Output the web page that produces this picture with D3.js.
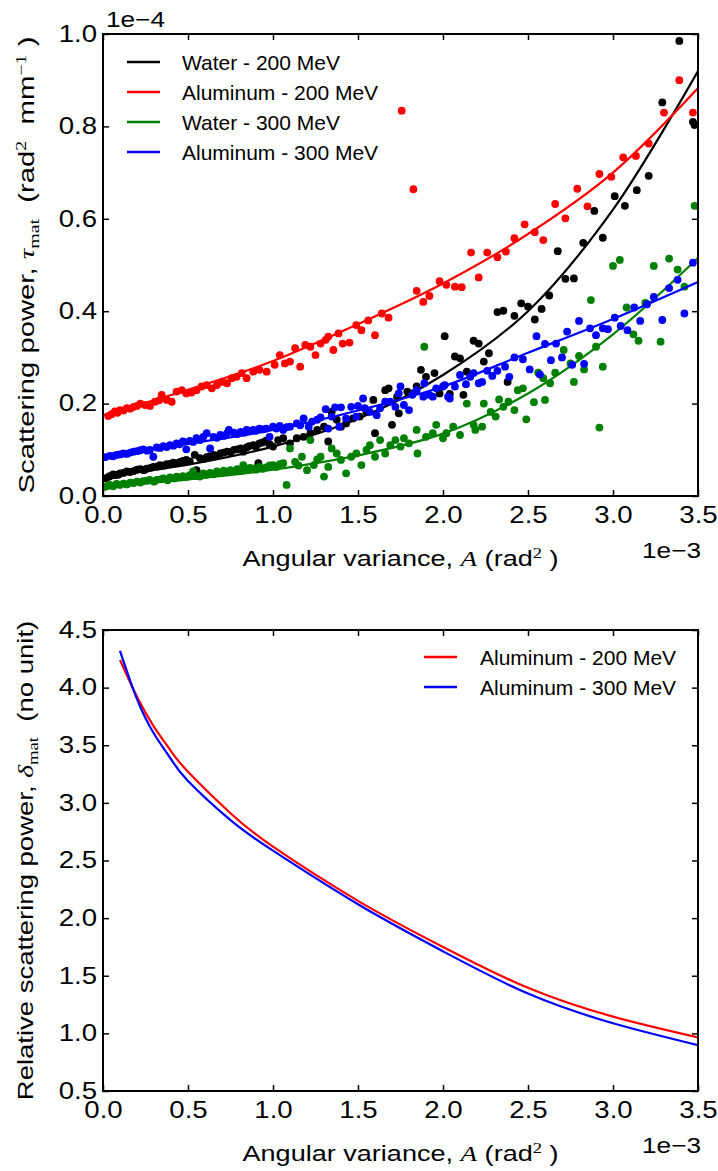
<!DOCTYPE html>
<html><head><meta charset="utf-8">
<script src="https://cdn.jsdelivr.net/npm/d3@7/dist/d3.min.js"></script>
<style>
body{margin:0;background:#fff;}
svg text{font-family:"Liberation Sans",Arial,Helvetica,sans-serif;fill:#000;}
</style></head><body>
<svg id="chart" width="718" height="1171"></svg>
<script>
// ---------- data ----------
const xTicks = [0, 0.5, 1.0, 1.5, 2.0, 2.5, 3.0, 3.5];
const xTickLabels = ["0.0", "0.5", "1.0", "1.5", "2.0", "2.5", "3.0", "3.5"];
const topYTicks = [0, 0.2, 0.4, 0.6, 0.8, 1.0];
const topYTickLabels = ["0.0", "0.2", "0.4", "0.6", "0.8", "1.0"];
const botYTicks = [0.5, 1.0, 1.5, 2.0, 2.5, 3.0, 3.5, 4.0, 4.5];
const botYTickLabels = ["0.5", "1.0", "1.5", "2.0", "2.5", "3.0", "3.5", "4.0", "4.5"];
const topSeriesNames = ["Water - 200 MeV", "Aluminum - 200 MeV", "Water - 300 MeV", "Aluminum - 300 MeV"];
const botSeriesNames = ["Aluminum - 200 MeV", "Aluminum - 300 MeV"];

// scatter points [A (1e-3 rad^2), tau (1e-4 rad^2/mm)]
const water200Points = [[0.012,0.038],[0.03,0.041],[0.04,0.043],[0.06,0.047],[0.07,0.045],[0.09,0.046],[0.10,0.049],[0.12,0.05],[0.14,0.053],[0.16,0.052],[0.18,0.054],[0.2,0.057],[0.22,0.058],[0.24,0.056],[0.257,0.059],[0.28,0.061],[0.296,0.063],[0.32,0.064],[0.335,0.067],[0.36,0.066],[0.375,0.069],[0.4,0.07],[0.414,0.072],[0.44,0.071],[0.453,0.074],[0.47,0.076],[0.49,0.078],[0.51,0.075],[0.54,0.089],[0.55,0.056],[0.57,0.082],[0.59,0.08],[0.61,0.084],[0.63,0.086],[0.65,0.089],[0.67,0.087],[0.69,0.092],[0.71,0.094],[0.73,0.096],[0.75,0.095],[0.77,0.10],[0.79,0.101],[0.81,0.103],[0.825,0.096],[0.845,0.105],[0.86,0.108],[0.884,0.11],[0.9,0.106],[0.914,0.071],[0.92,0.114],[0.94,0.116],[0.96,0.12],[0.98,0.112],[1.0,0.107],[1.03,0.121],[1.06,0.125],[1.10,0.114],[1.14,0.125],[1.18,0.128],[1.22,0.136],[1.26,0.143],[1.30,0.15],[1.325,0.118],[1.345,0.182],[1.375,0.165],[1.40,0.15],[1.43,0.157],[1.47,0.168],[1.51,0.172],[1.55,0.182],[1.59,0.208],[1.60,0.136],[1.66,0.229],[1.68,0.233],[1.70,0.154],[1.73,0.215],[1.74,0.179],[1.79,0.226],[1.82,0.222],[1.845,0.237],[1.87,0.273],[1.90,0.258],[1.95,0.266],[1.98,0.222],[2.01,0.346],[2.04,0.221],[2.07,0.302],[2.10,0.298],[2.12,0.219],[2.14,0.269],[2.18,0.336],[2.21,0.33],[2.24,0.291],[2.27,0.309],[2.32,0.398],[2.355,0.401],[2.38,0.247],[2.42,0.39],[2.46,0.417],[2.50,0.41],[2.54,0.382],[2.58,0.405],[2.625,0.434],[2.675,0.53],[2.72,0.47],[2.77,0.471],[2.825,0.548],[2.89,0.617],[2.94,0.559],[3.01,0.649],[3.07,0.628],[3.14,0.662],[3.21,0.693],[3.29,0.852],[3.39,0.985],[3.47,0.81],[3.48,0.803]];
const alu200Points = [[0.031,0.173],[0.05,0.177],[0.07,0.183],[0.085,0.18],[0.1,0.186],[0.12,0.185],[0.14,0.19],[0.16,0.189],[0.18,0.193],[0.2,0.195],[0.22,0.2],[0.247,0.197],[0.276,0.195],[0.306,0.204],[0.33,0.207],[0.345,0.219],[0.375,0.208],[0.404,0.204],[0.433,0.226],[0.463,0.229],[0.49,0.222],[0.52,0.224],[0.55,0.229],[0.58,0.237],[0.61,0.24],[0.64,0.233],[0.67,0.24],[0.70,0.247],[0.73,0.244],[0.757,0.255],[0.786,0.258],[0.816,0.266],[0.845,0.255],[0.884,0.269],[0.92,0.273],[0.963,0.269],[1.01,0.284],[1.04,0.305],[1.07,0.287],[1.10,0.291],[1.13,0.32],[1.16,0.28],[1.19,0.327],[1.22,0.323],[1.25,0.305],[1.28,0.33],[1.31,0.338],[1.325,0.345],[1.355,0.316],[1.385,0.352],[1.41,0.33],[1.45,0.332],[1.49,0.37],[1.52,0.359],[1.56,0.38],[1.60,0.348],[1.64,0.395],[1.68,0.386],[1.757,0.834],[1.826,0.664],[1.845,0.444],[1.884,0.42],[1.92,0.433],[1.98,0.465],[2.02,0.457],[2.07,0.453],[2.11,0.452],[2.165,0.527],[2.21,0.473],[2.26,0.527],[2.32,0.517],[2.37,0.529],[2.42,0.558],[2.48,0.588],[2.54,0.571],[2.59,0.554],[2.66,0.632],[2.72,0.601],[2.79,0.665],[2.85,0.627],[2.92,0.697],[2.99,0.691],[3.06,0.733],[3.135,0.736],[3.21,0.763],[3.30,0.83],[3.39,0.90],[3.47,0.83]];
const water300Points = [[0.012,0.02],[0.03,0.022],[0.04,0.024],[0.06,0.021],[0.08,0.026],[0.1,0.024],[0.12,0.027],[0.14,0.025],[0.16,0.029],[0.18,0.028],[0.2,0.031],[0.22,0.029],[0.237,0.032],[0.26,0.033],[0.276,0.035],[0.3,0.031],[0.316,0.035],[0.34,0.036],[0.355,0.038],[0.38,0.034],[0.394,0.04],[0.42,0.038],[0.433,0.042],[0.455,0.04],[0.47,0.043],[0.49,0.041],[0.51,0.045],[0.53,0.053],[0.55,0.043],[0.57,0.042],[0.59,0.049],[0.61,0.046],[0.63,0.05],[0.65,0.047],[0.67,0.053],[0.69,0.05],[0.71,0.055],[0.73,0.052],[0.75,0.056],[0.77,0.054],[0.79,0.058],[0.81,0.055],[0.825,0.067],[0.845,0.056],[0.864,0.061],[0.884,0.06],[0.9,0.057],[0.92,0.063],[0.94,0.059],[0.96,0.062],[0.98,0.066],[1.0,0.067],[1.02,0.063],[1.04,0.069],[1.06,0.071],[1.08,0.024],[1.1,0.103],[1.13,0.074],[1.15,0.066],[1.17,0.085],[1.2,0.056],[1.22,0.121],[1.24,0.067],[1.26,0.079],[1.28,0.085],[1.3,0.042],[1.325,0.063],[1.345,0.103],[1.375,0.092],[1.4,0.078],[1.43,0.049],[1.46,0.085],[1.49,0.092],[1.52,0.067],[1.55,0.1],[1.57,0.11],[1.6,0.085],[1.63,0.121],[1.66,0.092],[1.69,0.11],[1.72,0.121],[1.75,0.107],[1.77,0.125],[1.8,0.114],[1.845,0.143],[1.85,0.092],[1.89,0.323],[1.9,0.128],[1.94,0.136],[1.96,0.154],[2.0,0.125],[2.02,0.136],[2.06,0.15],[2.1,0.132],[2.14,0.2],[2.18,0.154],[2.19,0.143],[2.23,0.15],[2.24,0.2],[2.28,0.182],[2.31,0.172],[2.33,0.209],[2.355,0.193],[2.385,0.204],[2.42,0.186],[2.44,0.229],[2.47,0.233],[2.49,0.166],[2.535,0.203],[2.56,0.267],[2.59,0.255],[2.6,0.208],[2.63,0.244],[2.66,0.267],[2.71,0.316],[2.75,0.287],[2.77,0.247],[2.8,0.303],[2.83,0.274],[2.87,0.424],[2.9,0.323],[2.92,0.148],[2.94,0.28],[3.0,0.498],[3.04,0.511],[3.08,0.408],[3.12,0.35],[3.15,0.336],[3.19,0.418],[3.24,0.498],[3.28,0.334],[3.33,0.514],[3.38,0.49],[3.42,0.453],[3.48,0.628]];
const alu300Points = [[0.012,0.084],[0.04,0.087],[0.06,0.086],[0.08,0.089],[0.1,0.09],[0.12,0.092],[0.14,0.091],[0.16,0.094],[0.18,0.096],[0.2,0.097],[0.22,0.099],[0.237,0.101],[0.26,0.098],[0.276,0.1],[0.296,0.085],[0.316,0.105],[0.336,0.104],[0.355,0.108],[0.375,0.106],[0.394,0.11],[0.414,0.109],[0.433,0.114],[0.45,0.112],[0.47,0.118],[0.49,0.101],[0.51,0.119],[0.53,0.117],[0.55,0.125],[0.57,0.121],[0.59,0.128],[0.61,0.136],[0.63,0.103],[0.65,0.128],[0.67,0.126],[0.69,0.132],[0.71,0.13],[0.73,0.136],[0.74,0.143],[0.77,0.137],[0.79,0.134],[0.81,0.139],[0.83,0.137],[0.845,0.143],[0.864,0.14],[0.884,0.143],[0.9,0.141],[0.92,0.146],[0.94,0.144],[0.96,0.146],[0.98,0.128],[1.0,0.15],[1.02,0.146],[1.04,0.152],[1.06,0.143],[1.08,0.149],[1.1,0.15],[1.14,0.157],[1.16,0.153],[1.18,0.168],[1.21,0.15],[1.23,0.161],[1.26,0.165],[1.28,0.17],[1.31,0.188],[1.325,0.146],[1.345,0.172],[1.365,0.192],[1.39,0.15],[1.4,0.192],[1.43,0.168],[1.46,0.193],[1.49,0.172],[1.5,0.195],[1.53,0.211],[1.54,0.19],[1.57,0.182],[1.61,0.175],[1.63,0.19],[1.66,0.204],[1.69,0.204],[1.72,0.193],[1.74,0.222],[1.75,0.237],[1.77,0.197],[1.8,0.186],[1.82,0.219],[1.845,0.229],[1.884,0.215],[1.89,0.244],[1.92,0.219],[1.94,0.215],[1.96,0.233],[2.0,0.237],[2.01,0.24],[2.03,0.215],[2.04,0.211],[2.07,0.237],[2.1,0.262],[2.135,0.242],[2.16,0.258],[2.18,0.266],[2.21,0.244],[2.23,0.247],[2.26,0.271],[2.29,0.26],[2.32,0.271],[2.365,0.28],[2.39,0.258],[2.42,0.3],[2.47,0.296],[2.51,0.274],[2.55,0.346],[2.57,0.263],[2.6,0.329],[2.635,0.294],[2.665,0.33],[2.7,0.3],[2.73,0.356],[2.76,0.284],[2.8,0.379],[2.83,0.286],[2.865,0.363],[2.9,0.348],[2.94,0.363],[2.97,0.361],[3.01,0.386],[3.045,0.368],[3.085,0.359],[3.125,0.408],[3.16,0.379],[3.2,0.415],[3.24,0.431],[3.29,0.381],[3.33,0.45],[3.38,0.468],[3.42,0.395],[3.47,0.505]];

// fitted curves
const water200Fit = [[0,0.042],[0.5,0.068],[1.0,0.107],[1.5,0.167],[2.0,0.262],[2.5,0.40],[3.0,0.62],[3.5,0.92]];
const alu200Fit = [[0,0.175],[0.5,0.230],[1.0,0.292],[1.5,0.372],[2.0,0.46],[2.5,0.567],[3.0,0.70],[3.5,0.883]];
const water300Fit = [[0,0.022],[0.5,0.036],[1.0,0.057],[1.5,0.088],[2.0,0.135],[2.5,0.222],[3.0,0.35],[3.5,0.515]];
const alu300Fit = [[0,0.087],[0.5,0.113],[1.0,0.143],[1.5,0.185],[2.0,0.237],[2.5,0.31],[3.0,0.383],[3.5,0.463]];

// relative scattering power curves
const relAlu200 = [[0.1,4.24],[0.2,3.92],[0.3,3.66],[0.4,3.45],[0.5,3.27],[0.75,2.91],[1.0,2.62],[1.5,2.15],[2.0,1.75],[2.5,1.395],[3.0,1.145],[3.5,0.965]];
const relAlu300 = [[0.1,4.32],[0.2,3.90],[0.3,3.60],[0.4,3.38],[0.5,3.19],[0.75,2.85],[1.0,2.585],[1.5,2.12],[2.0,1.712],[2.5,1.345],[3.0,1.088],[3.5,0.898]];

// ---------- styles ----------
const topColors = ["#000000", "#ff0000", "#008000", "#0000ff"];
const botColors = ["#ff0000", "#0000ff"];
const FS = 21;       // legend
const TFS = 23;      // tick labels
const TSX = 1.2;     // horizontal stretch of tick labels
const LFS = 22;      // axis labels

const svg = d3.select("#chart");
const defs = svg.append("defs");

function panel(cfg) {
  const g = svg.append("g");
  const x = d3.scaleLinear().domain([0, 3.5]).range([cfg.left, cfg.right]);
  const y = d3.scaleLinear().domain(cfg.yDomain).range([cfg.bottom, cfg.top]);
  const clipId = "clip" + cfg.id;
  defs.append("clipPath").attr("id", clipId).append("rect")
    .attr("x", cfg.left).attr("y", cfg.top)
    .attr("width", cfg.right - cfg.left).attr("height", cfg.bottom - cfg.top);
  const plot = g.append("g").attr("clip-path", `url(#${clipId})`);

  const tickFmtX = (d, i) => xTickLabels[i];
  const tickFmtY = (d, i) => cfg.yLabels[i];
  const ax = [
    g.append("g").attr("transform", `translate(0,${cfg.bottom})`)
      .call(d3.axisBottom(x).tickValues(xTicks).tickFormat(tickFmtX).tickSize(-6).tickPadding(11)),
    g.append("g").attr("transform", `translate(0,${cfg.top})`)
      .call(d3.axisTop(x).tickValues(xTicks).tickFormat("").tickSize(-6)),
    g.append("g").attr("transform", `translate(${cfg.left},0)`)
      .call(d3.axisLeft(y).tickValues(cfg.yTicks).tickFormat(tickFmtY).tickSize(-6).tickPadding(5)),
    g.append("g").attr("transform", `translate(${cfg.right},0)`)
      .call(d3.axisRight(y).tickValues(cfg.yTicks).tickFormat("").tickSize(-6))
  ];
  ax.forEach(a => {
    a.select(".domain").remove();
    a.selectAll(".tick line").attr("stroke", "#000").attr("stroke-width", 1.5);
    a.selectAll(".tick text").attr("font-size", TFS)
      .attr("font-family", "Liberation Sans, Arial, sans-serif").attr("fill", "#000")
      .attr("transform", `scale(${TSX},1)`);
  });
  return {g, plot, x, y};
}

function frame(p, cfg) {
  p.g.append("rect").attr("x", cfg.left).attr("y", cfg.top)
    .attr("width", cfg.right - cfg.left).attr("height", cfg.bottom - cfg.top)
    .attr("fill", "none").attr("stroke", "#000").attr("stroke-width", 2);
}

function offsetText(xp, yp, anchor, txt) {
  svg.append("text").attr("transform", `translate(${xp},${yp}) scale(1.19,1)`)
    .attr("text-anchor", anchor).attr("font-size", LFS).text(txt);
}

function xLabel(yBase) {
  const t = svg.append("text").attr("transform", `translate(400.5,${yBase}) scale(1.23,1)`)
    .attr("text-anchor", "middle").attr("font-size", LFS).style("white-space", "pre");
  t.append("tspan").text("Angular variance, ");
  t.append("tspan").attr("font-family", "Liberation Serif, serif").attr("font-style", "italic").text("A");
  t.append("tspan").text(" (rad");
  t.append("tspan").attr("font-family", "Liberation Serif, serif").attr("font-size", 15).attr("dy", -8).text("2");
  t.append("tspan").attr("dy", 8).text(" )");
}

// ---------- top panel ----------
const topCfg = {id: "top", left: 103, right: 698, top: 34, bottom: 496, yDomain: [0, 1.0], yTicks: topYTicks, yLabels: topYTickLabels};
const P1 = panel(topCfg);
const line1 = d3.line().x(d => P1.x(d[0])).y(d => P1.y(d[1])).curve(d3.curveCatmullRom.alpha(0.5));
const topPoints = [water200Points, alu200Points, water300Points, alu300Points];
const topFits = [water200Fit, alu200Fit, water300Fit, alu300Fit];
topPoints.forEach((pts, i) => {
  P1.plot.append("g").selectAll("circle").data(pts).join("circle")
    .attr("cx", d => P1.x(d[0])).attr("cy", d => P1.y(d[1])).attr("r", 3.9)
    .attr("fill", topColors[i]);
  P1.plot.append("path").datum(topFits[i]).attr("d", line1)
    .attr("fill", "none").attr("stroke", topColors[i]).attr("stroke-width", 2.2);
});
frame(P1, topCfg);

const leg1 = P1.g.append("g");
topSeriesNames.forEach((name, i) => {
  const yy = 62 + i * 30;
  leg1.append("line").attr("x1", 127).attr("x2", 160).attr("y1", yy).attr("y2", yy)
    .attr("stroke", topColors[i]).attr("stroke-width", 2.5);
  leg1.append("text").attr("x", 182).attr("y", yy + 7.5).attr("font-size", FS).text(name);
});

offsetText(106, 27, "start", "1e\u22124");
offsetText(701, 558, "end", "1e\u22123");
xLabel(566);

(function () {
  const t = svg.append("text").attr("transform", "translate(34,265) rotate(-90) scale(1.33,1)")
    .attr("text-anchor", "middle").attr("font-size", LFS).style("white-space", "pre");
  t.append("tspan").text("Scattering power, ");
  t.append("tspan").attr("font-family", "Liberation Serif, serif").attr("font-style", "italic").text("\u03C4");
  t.append("tspan").attr("font-family", "Liberation Serif, serif").attr("font-size", 15).attr("dy", 5).text("mat");
  t.append("tspan").attr("dy", -5).text("  (rad");
  t.append("tspan").attr("font-family", "Liberation Serif, serif").attr("font-size", 15).attr("dy", -8).text("2");
  t.append("tspan").attr("dy", 8).text("  mm");
  t.append("tspan").attr("font-family", "Liberation Serif, serif").attr("font-size", 15).attr("dy", -8).text("\u22121");
  t.append("tspan").attr("dy", 8).text(" )");
})();

// ---------- bottom panel ----------
const botCfg = {id: "bot", left: 103, right: 698, top: 630, bottom: 1091, yDomain: [0.5, 4.5], yTicks: botYTicks, yLabels: botYTickLabels};
const P2 = panel(botCfg);
const line2 = d3.line().x(d => P2.x(d[0])).y(d => P2.y(d[1])).curve(d3.curveNatural);
[relAlu200, relAlu300].forEach((c, i) => {
  P2.plot.append("path").datum(c).attr("d", line2)
    .attr("fill", "none").attr("stroke", botColors[i]).attr("stroke-width", 2.2);
});
frame(P2, botCfg);

const leg2 = P2.g.append("g");
botSeriesNames.forEach((name, i) => {
  const yy = 657 + i * 30;
  leg2.append("line").attr("x1", 424).attr("x2", 457).attr("y1", yy).attr("y2", yy)
    .attr("stroke", botColors[i]).attr("stroke-width", 2.5);
  leg2.append("text").attr("x", 480).attr("y", yy + 7.5).attr("font-size", FS).text(name);
});

offsetText(701, 1153, "end", "1e\u22123");
xLabel(1161);

(function () {
  const t = svg.append("text").attr("transform", "translate(33,860.5) rotate(-90) scale(1.25,1)")
    .attr("text-anchor", "middle").attr("font-size", LFS).style("white-space", "pre");
  t.append("tspan").text("Relative scattering power, ");
  t.append("tspan").attr("font-family", "Liberation Serif, serif").attr("font-style", "italic").text("\u03B4");
  t.append("tspan").attr("font-family", "Liberation Serif, serif").attr("font-size", 15).attr("dy", 5).text("mat");
  t.append("tspan").attr("dy", -5).text("  (no unit)");
})();
</script>
</body></html>
